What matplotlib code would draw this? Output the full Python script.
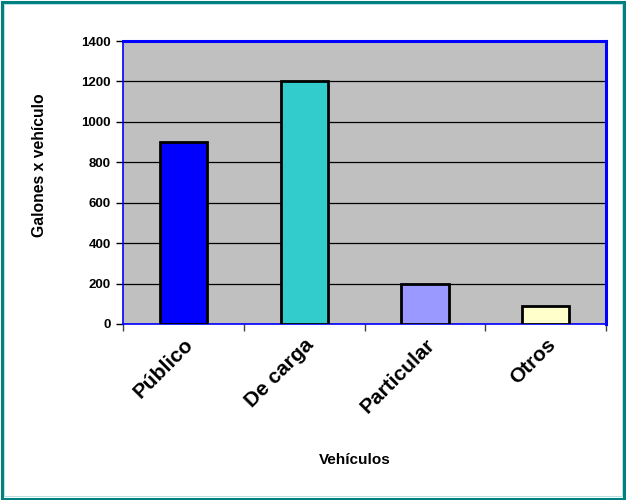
import matplotlib
matplotlib.use("Agg")
import matplotlib.pyplot as plt
from matplotlib.patches import Rectangle

categories = ["Público", "De carga", "Particular", "Otros"]
galones = [900, 1200, 200, 90]
bar_colors = ["#0000FF", "#33CCCC", "#9999FF", "#FFFFCC"]
y_ticks = [0, 200, 400, 600, 800, 1000, 1200, 1400]

plt.rcParams["font.family"] = ["Liberation Sans", "DejaVu Sans"]
plt.rcParams["font.weight"] = "bold"

fig = plt.figure(figsize=(6.26, 5.0), dpi=100)
fig.patch.set_facecolor("white")

# outer frame of the chart
fig.add_artist(Rectangle((0.0024, 0.003), 0.9952, 0.994, transform=fig.transFigure,
                         fill=False, edgecolor="#008080", linewidth=2.2, zorder=10))
fig.add_artist(Rectangle((0.0056, 0.008), 0.9888, 0.985, transform=fig.transFigure,
                         fill=False, edgecolor="#A8DCDC", linewidth=0.6, zorder=10))

ax = fig.add_axes([0.1965, 0.352, 0.772, 0.566])
ax.set_facecolor("#C0C0C0")

x = list(range(len(categories)))
ax.bar(x, galones, width=0.39, color=bar_colors, edgecolor="black", linewidth=2, zorder=3)

ax.set_xlim(-0.5, len(categories) - 0.5)
ax.set_ylim(0, 1400)
ax.set_yticks(y_ticks)
ax.set_yticklabels([str(v) for v in y_ticks], fontsize=9.5, fontweight="bold")
ax.yaxis.grid(True, color="black", linewidth=0.9, zorder=1)
ax.set_axisbelow(True)

ax.set_xticks(x)
ax.set_xticklabels(categories, rotation=45, ha="right", rotation_mode="anchor",
                   fontsize=15, fontweight="bold")
ax.tick_params(axis="x", length=0, pad=8)
ax.set_xticks([i + 0.5 for i in range(-1, len(categories))], minor=True)
ax.tick_params(axis="x", which="minor", length=5, color="#404040", width=1)
ax.tick_params(axis="y", length=5, width=1, color="black", pad=4)

for side, lw in [("top", 2.2), ("right", 2.2), ("left", 1.2), ("bottom", 1.2)]:
    ax.spines[side].set_color("#0000FF")
    ax.spines[side].set_linewidth(lw)

fig.text(40 / 626, 1 - 165 / 500, "Galones x vehículo", rotation=90,
         fontsize=11.3, fontweight="bold", ha="center", va="center")
fig.text(355 / 626, 1 - 460 / 500, "Vehículos", fontsize=11, fontweight="bold",
         ha="center", va="center")

fig.savefig("out.png", dpi=100)
